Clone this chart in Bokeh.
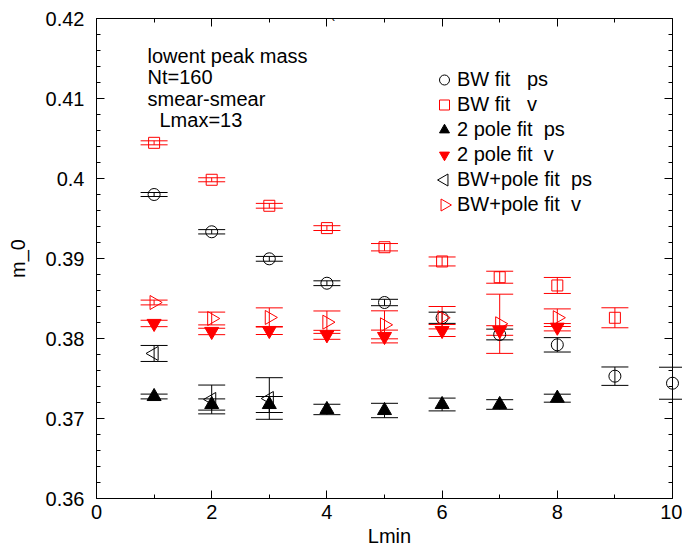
import math
from bokeh.plotting import figure
from bokeh.models import (Range1d, LinearAxis, FixedTicker, Whisker, TeeHead,
                          ColumnDataSource, Legend, LegendItem, Label)
from bokeh.embed import file_html
from bokeh.resources import INLINE

# ---------------- data ----------------
x_ticks = [0, 2, 4, 6, 8, 10]
x_minor_ticks = [1, 3, 5, 7, 9]
y_ticks = [0.36, 0.37, 0.38, 0.39, 0.40, 0.41, 0.42]
y_tick_labels = ["0.36", "0.37", "0.38", "0.39", "0.4", "0.41", "0.42"]

bw_ps_L = [1, 2, 3, 4, 5, 6, 7, 8, 9, 10]
bw_ps_m = [0.3980, 0.39334, 0.38996, 0.38691, 0.3845, 0.38259, 0.3805, 0.37921, 0.37529, 0.37441]
bw_ps_e = [0.00025, 0.00027, 0.0003, 0.0003, 0.0004, 0.0007, 0.00067, 0.0009, 0.00115, 0.002]

bw_v_L = [1, 2, 3, 4, 5, 6, 7, 8, 9]
bw_v_m = [0.40446, 0.39984, 0.39659, 0.3938, 0.39141, 0.38963, 0.38766, 0.38663, 0.38259]
bw_v_e = [0.00025, 0.00025, 0.0003, 0.0003, 0.00046, 0.00056, 0.00075, 0.001, 0.00125]

p2_ps_L = [1, 2, 3, 4, 5, 6, 7, 8]
p2_ps_m = [0.37275, 0.37175, 0.37175, 0.37113, 0.3710, 0.37175, 0.37175, 0.37254]
p2_ps_e = [0.0003, 0.0007, 0.001, 0.00065, 0.0009, 0.0008, 0.0006, 0.0005]

p2_v_L = [1, 2, 3, 4, 5, 6, 7, 8]
p2_v_m = [0.38188, 0.38088, 0.3810, 0.38046, 0.38025, 0.3810, 0.3810, 0.38141]
p2_v_e = [0.0004, 0.0004, 0.0005, 0.00056, 0.0008, 0.00075, 0.0006, 0.00046]

bwp_ps_L = [1, 2, 3]
bwp_ps_m = [0.37813, 0.37238, 0.3725]
bwp_ps_e = [0.001, 0.0018, 0.0026]

bwp_v_L = [1, 2, 3, 4, 5, 6, 7, 8]
bwp_v_m = [0.3845, 0.3825, 0.38263, 0.38204, 0.38171, 0.3826, 0.38184, 0.3826]
bwp_v_e = [0.0003, 0.0008, 0.0012, 0.0014, 0.00175, 0.0014, 0.0037, 0.0011]

legend_labels = ["BW fit \u00a0 ps", "BW fit \u00a0 v", "2 pole fit \u00a0ps",
                 "2 pole fit \u00a0v", "BW+pole fit \u00a0ps", "BW+pole fit \u00a0v"]
info_lines = ["lowent peak mass", "Nt=160", "smear-smear", "Lmax=13"]
title_fragment = "("

# ---------------- layout constants ----------------
FONT = "Liberation Sans"
FS = "20px"
RED = "#ff0000"
W, H = 682, 551
LEFT, TOP, BOTTOM = 96, 18, 53
AXIS_RIGHT_PX = 672          # where x = 10 sits; frame runs on to the window edge
X0, X1, Y0, Y1 = 0, 10, 0.36, 0.42
FRAME_W = W - LEFT
FRAME_H = H - TOP - BOTTOM
X_END = X0 + (X1 - X0) * FRAME_W / (AXIS_RIGHT_PX - LEFT)


def px_to_data(px, py):
    """canvas pixel -> data coordinates (for annotation placement only)"""
    return (X0 + (px - LEFT) / FRAME_W * (X_END - X0),
            Y0 + (TOP + FRAME_H - py) / FRAME_H * (Y1 - Y0))


p = figure(width=W, height=H, x_range=Range1d(X0, X_END), y_range=Range1d(Y0, Y1),
           output_backend="svg", toolbar_location=None,
           min_border_left=LEFT, min_border_right=0, min_border_top=TOP,
           min_border_bottom=BOTTOM)
p.grid.visible = False
p.outline_line_color = None
p.background_fill_color = "white"
p.border_fill_color = "white"

y_minor = [round(0.36 + 0.002 * i, 4) for i in range(31) if i % 5]
xt = FixedTicker(ticks=x_ticks, minor_ticks=x_ticks + x_minor_ticks)
yt = FixedTicker(ticks=y_ticks, minor_ticks=y_minor)


def base_style(ax):
    ax.axis_line_color = "black"
    ax.major_tick_line_color = "black"
    ax.minor_tick_line_color = "black"
    ax.major_tick_in = 8
    ax.major_tick_out = 0
    ax.minor_tick_in = 4
    ax.minor_tick_out = 0
    ax.major_label_text_font = FONT
    ax.major_label_text_font_size = FS
    ax.major_label_text_color = "black"
    ax.axis_label_text_font = FONT
    ax.axis_label_text_font_size = FS
    ax.axis_label_text_font_style = "normal"
    ax.axis_label_text_color = "black"


xa = p.xaxis[0]
base_style(xa)
xa.ticker = xt
xa.bounds = (X0, X1)
xa.axis_label = "Lmin"
xa.major_label_standoff = 6
xa.axis_label_standoff = 3

ya = p.yaxis[0]
base_style(ya)
ya.ticker = yt
ya.axis_label = "m_0"
ya.major_label_standoff = 12
ya.axis_label_standoff = 14
ya.major_label_overrides = {t: s for t, s in zip(y_ticks, y_tick_labels)}

# mirrored ticks (no labels) on top and at x = 10
for loc, majors, minors in (("above", x_ticks, x_minor_ticks), ("right", y_ticks, y_minor)):
    for ticks, length in ((majors, 8), (minors, 4)):
        ax = LinearAxis(ticker=FixedTicker(ticks=[], minor_ticks=ticks))
        ax.axis_line_color = "black"
        ax.major_tick_line_color = None
        ax.minor_tick_line_color = "black"
        ax.minor_tick_in = length
        ax.minor_tick_out = 0
        ax.major_tick_in = 0
        ax.major_tick_out = 0
        ax.major_label_standoff = 0
        if loc == "above":
            ax.bounds = (X0, X1)
        else:
            ax.fixed_location = X1
        p.add_layout(ax, loc)


def errbars(L, m, e, color):
    src = ColumnDataSource(dict(x=L, lo=[a - b for a, b in zip(m, e)],
                                hi=[a + b for a, b in zip(m, e)]))
    w = Whisker(base="x", lower="lo", upper="hi", source=src, line_color=color, line_width=1,
                upper_head=TeeHead(size=27, line_color=color, line_width=1),
                lower_head=TeeHead(size=27, line_color=color, line_width=1))
    p.add_layout(w)


errbars(bw_ps_L, bw_ps_m, bw_ps_e, "black")
errbars(bw_v_L, bw_v_m, bw_v_e, RED)
errbars(p2_ps_L, p2_ps_m, p2_ps_e, "black")
errbars(p2_v_L, p2_v_m, p2_v_e, RED)
errbars(bwp_ps_L, bwp_ps_m, bwp_ps_e, "black")
errbars(bwp_v_L, bwp_v_m, bwp_v_e, RED)

LEFT_ANG, RIGHT_ANG = math.pi / 2, -math.pi / 2
r1 = p.scatter(bw_ps_L, bw_ps_m, marker="circle", size=12, fill_color=None, line_color="black")
r2 = p.scatter(bw_v_L, bw_v_m, marker="square", size=11, fill_color=None, line_color=RED)
r3 = p.scatter(p2_ps_L, p2_ps_m, marker="triangle", size=14, fill_color="black", line_color="black")
r4 = p.scatter(p2_v_L, p2_v_m, marker="inverted_triangle", size=14, fill_color=RED, line_color=RED)
r5 = p.scatter(bwp_ps_L, bwp_ps_m, marker="triangle", angle=LEFT_ANG, size=14,
               fill_color=None, line_color="black")
r6 = p.scatter(bwp_v_L, bwp_v_m, marker="triangle", angle=RIGHT_ANG, size=14,
               fill_color=None, line_color=RED)

# legend (Bokeh legend ignores marker angle -> rotated swatches drawn separately)
dummy = p.scatter([], [], marker="circle", size=1, line_alpha=0, fill_alpha=0)
LEG_X, LEG_Y, GW, GH = 335, 281, 26, 25
legend = Legend(items=[LegendItem(label=lab, renderers=[r]) for lab, r in
                       zip(legend_labels, [r1, r2, r3, r4, dummy, dummy])],
                location=(LEG_X, LEG_Y), glyph_width=GW, glyph_height=GH, label_height=GH,
                label_standoff=0, padding=0, margin=0, spacing=0,
                border_line_color=None, background_fill_alpha=0,
                label_text_font=FONT, label_text_font_size=FS, label_text_color="black")
p.add_layout(legend)
leg_top = TOP + FRAME_H - LEG_Y - 6 * GH
sw_x, sw_y5 = px_to_data(LEFT + LEG_X + GW / 2, leg_top + 4.5 * GH)
_, sw_y6 = px_to_data(LEFT + LEG_X + GW / 2, leg_top + 5.5 * GH)
p.scatter([sw_x], [sw_y5], marker="triangle", angle=LEFT_ANG, size=12,
          fill_color=None, line_color="black")
p.scatter([sw_x], [sw_y6], marker="triangle", angle=RIGHT_ANG, size=12,
          fill_color=None, line_color=RED)

info_px = [(147, 55), (147, 76.5), (147, 98), (159, 119.5)]
for t, (lx, ly) in zip(info_lines, info_px):
    dx, dy = px_to_data(lx, ly)
    p.add_layout(Label(x=dx, y=dy, text=t, text_font=FONT, text_font_size=FS,
                       text_baseline="middle", text_align="left", text_color="black"))

tx, ty = px_to_data(330, 13)
p.add_layout(Label(x=tx, y=ty, text=title_fragment, text_font=FONT, text_font_size="13px",
                   text_baseline="alphabetic", text_align="left", text_color="black"))

open("out.html", "w").write(file_html(p, INLINE))
